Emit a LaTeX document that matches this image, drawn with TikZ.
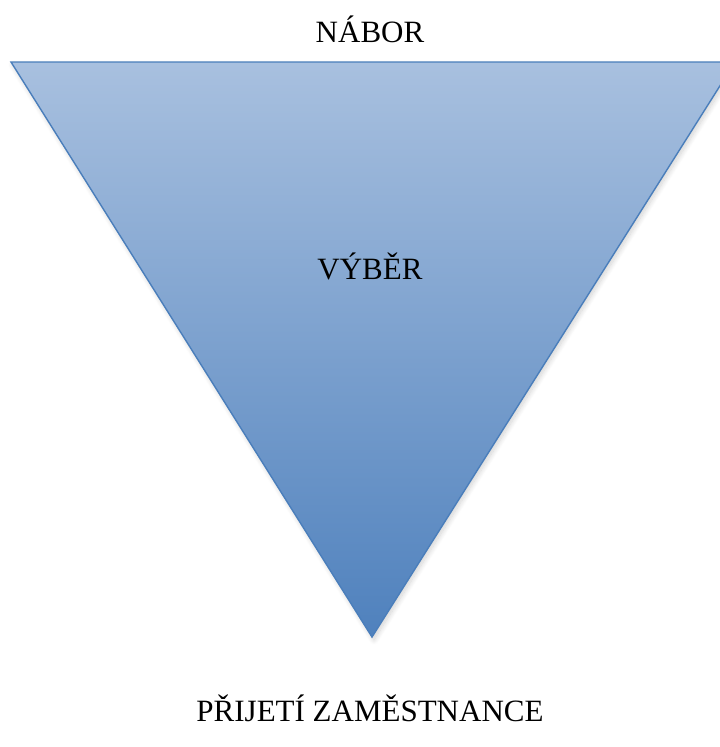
\documentclass[tikz,border=0pt]{standalone}
\usepackage{fontspec}
\setmainfont{Liberation Serif}
\usetikzlibrary{shadows.blur}
\definecolor{funneltop}{HTML}{A8C0DF}
\definecolor{funnelbottom}{HTML}{4F81BD}
\definecolor{funnelline}{HTML}{4A7EBB}
\tikzset{
  label text/.style={font=\fontsize{31}{36}\selectfont, text=black, anchor=base, inner sep=0pt},
  funnel/.style={draw=funnelline, line width=1.4pt, top color=funneltop, bottom color=funnelbottom,
    blur shadow={shadow xshift=2pt, shadow yshift=-3pt, shadow blur radius=5pt, shadow blur steps=10, shadow opacity=18}}
}
\begin{document}
\begin{tikzpicture}[x=1pt, y=-1pt]
  \useasboundingbox (0,0) rectangle (720,747);
  \clip (0,0) rectangle (720,747);
  % funnel triangle
  \coordinate (tl) at (11,62);
  \coordinate (tr) at (735,62);
  \coordinate (apex) at (372,637);
  \path[funnel] (tl) -- (tr) -- (apex) -- cycle;
  % labels
  \node[label text] (nabor) at (370,42) {NÁBOR};
  \node[label text] (vyber) at (370,279) {VÝBĚR};
  \node[label text] (prijeti) at (370,721) {PŘIJETÍ ZAMĚSTNANCE};
\end{tikzpicture}
\end{document}
